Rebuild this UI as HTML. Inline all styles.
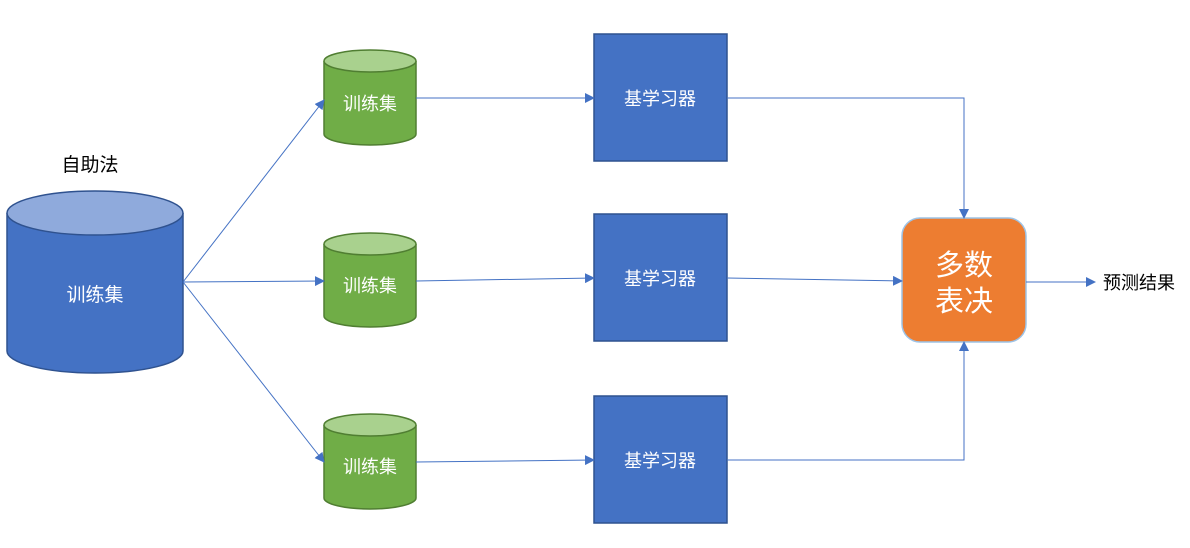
<!DOCTYPE html>
<html><head><meta charset="utf-8"><style>
html,body{margin:0;padding:0;background:#fff;}
svg text{font-family:"Liberation Sans","Noto Sans CJK SC",sans-serif;}
</style></head><body>
<svg width="1190" height="543" viewBox="0 0 1190 543" xmlns="http://www.w3.org/2000/svg">
<defs>
<marker id="a" markerWidth="10" markerHeight="10" refX="9" refY="5" orient="auto" markerUnits="userSpaceOnUse">
<path d="M0,0 L10,5 L0,10 z" fill="#4472c4"/></marker>
</defs>
<!-- big cylinder -->
<path d="M7,213 L7,351 A88,22 0 0 0 183,351 L183,213" fill="#4472c4" stroke="#2f528f" stroke-width="1.5"/>
<ellipse cx="95" cy="213" rx="88" ry="22" fill="#8faadc" stroke="#2f528f" stroke-width="1.5"/>
<text x="95" y="301" font-size="19" fill="#fff" text-anchor="middle">训练集</text>
<text x="90" y="171" font-size="19" fill="#000" text-anchor="middle">自助法</text>
<!-- small cylinders -->
<g stroke="#507e32" stroke-width="1.5">
<path d="M324,61 L324,134 A46,11 0 0 0 416,134 L416,61" fill="#70ad47"/>
<ellipse cx="370" cy="61" rx="46" ry="11" fill="#a9d18e"/>
<path d="M324,244 L324,316 A46,11 0 0 0 416,316 L416,244" fill="#70ad47"/>
<ellipse cx="370" cy="244" rx="46" ry="11" fill="#a9d18e"/>
<path d="M324,425 L324,498 A46,11 0 0 0 416,498 L416,425" fill="#70ad47"/>
<ellipse cx="370" cy="425" rx="46" ry="11" fill="#a9d18e"/>
</g>
<g font-size="18" fill="#fff" text-anchor="middle">
<text x="370" y="110">训练集</text>
<text x="370" y="292">训练集</text>
<text x="370" y="473">训练集</text>
</g>
<!-- boxes -->
<g fill="#4472c4" stroke="#2f528f" stroke-width="1.5">
<rect x="594" y="34" width="133" height="127"/>
<rect x="594" y="214" width="133" height="127"/>
<rect x="594" y="396" width="133" height="127"/>
</g>
<g font-size="18" fill="#fff" text-anchor="middle">
<text x="660" y="105">基学习器</text>
<text x="660" y="285">基学习器</text>
<text x="660" y="467">基学习器</text>
</g>
<rect x="902" y="218" width="124" height="124" rx="18" fill="#ed7d31" stroke="#9dc3e6" stroke-width="1.5"/>
<text x="964" y="275" font-size="29" fill="#fff" text-anchor="middle">多数</text>
<text x="964" y="311" font-size="29" fill="#fff" text-anchor="middle">表决</text>
<!-- lines -->
<g stroke="#4472c4" stroke-width="1" fill="none" marker-end="url(#a)">
<line x1="183" y1="282" x2="324" y2="100"/>
<line x1="183" y1="282" x2="324" y2="281"/>
<line x1="183" y1="282" x2="324" y2="462"/>
<line x1="416" y1="98" x2="594" y2="98"/>
<line x1="416" y1="281" x2="594" y2="278"/>
<line x1="416" y1="462" x2="594" y2="460"/>
<polyline points="727,98 964,98 964,218"/>
<line x1="727" y1="278" x2="902" y2="281"/>
<polyline points="727,460 964,460 964,342"/>
<line x1="1026" y1="282" x2="1095" y2="282"/>
</g>
<text x="1103" y="289" font-size="18" fill="#000">预测结果</text>
</svg>
</body></html>
